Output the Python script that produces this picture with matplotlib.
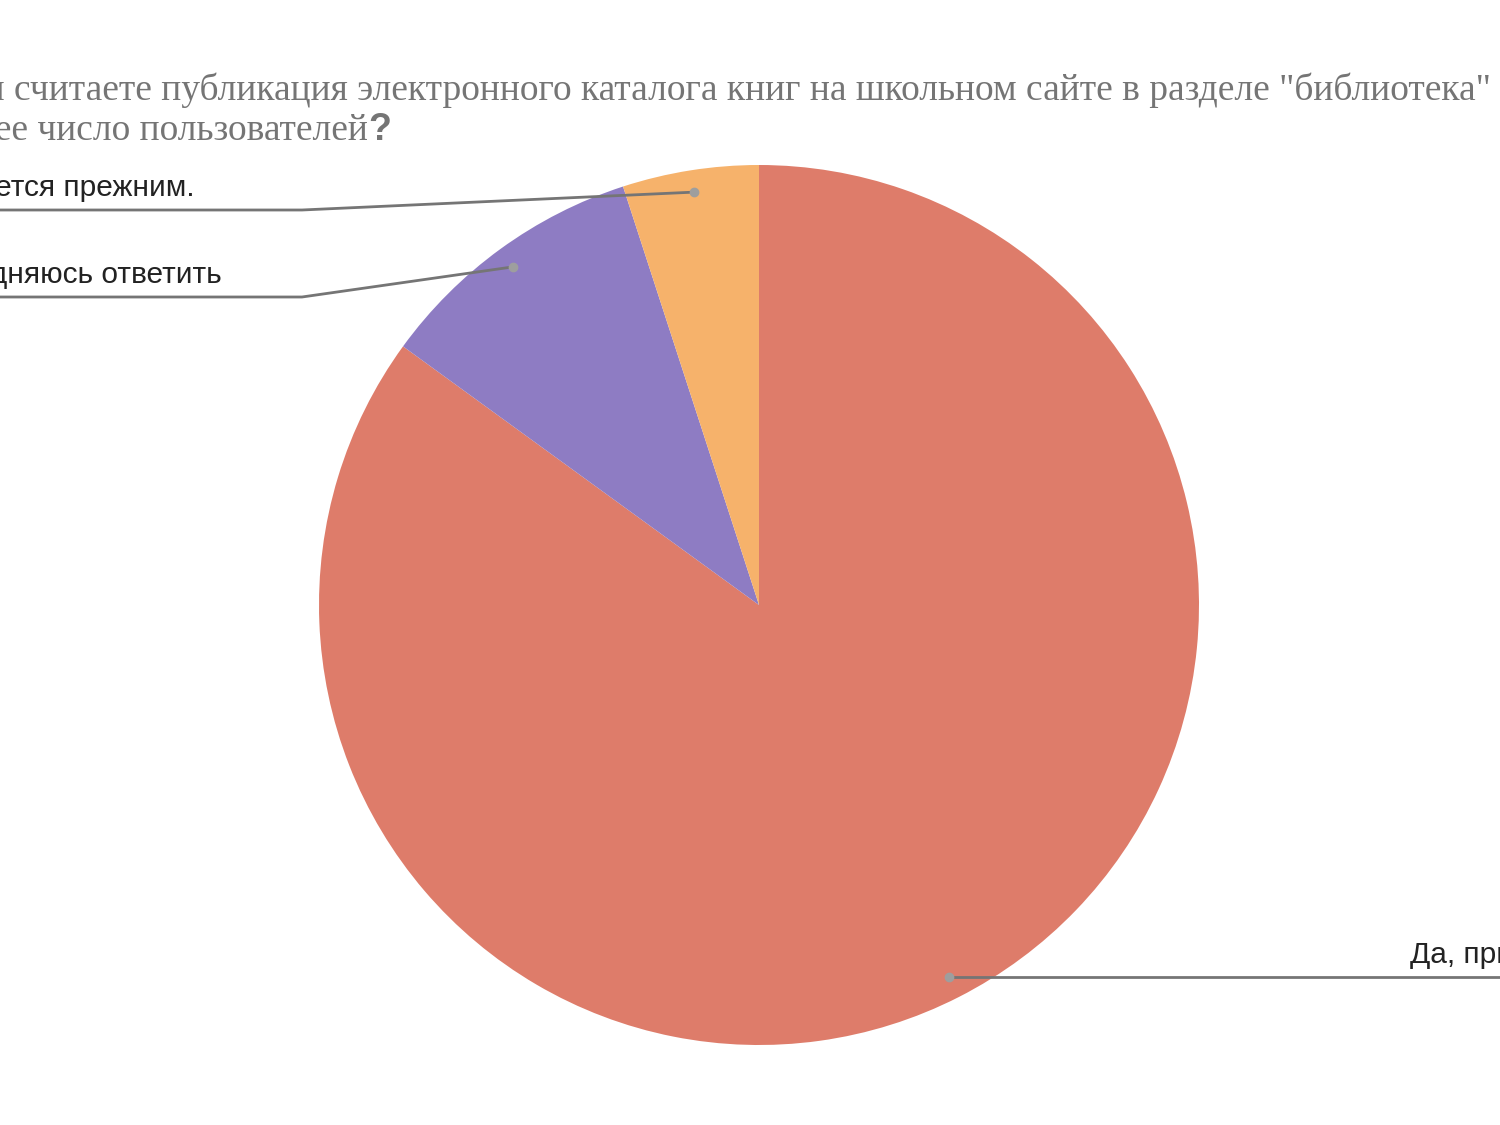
import numpy as np
import matplotlib.pyplot as plt

W, H = 1500, 1125

categories = ["Да, привлечет", "Затрудняюсь ответить", "Число пользователей останется прежним."]
values = [85, 10, 5]
colors = ["#de7c6a", "#8e7cc3", "#f6b26b"]

title_line1 = "Как вы считаете публикация электронного каталога книг на школьном сайте в разделе \"библиотека\" привлечет"
title_line2 = "большее число пользователей"

fig = plt.figure(figsize=(15, 11.25), dpi=100)
ax = fig.add_axes([0, 0, 1, 1])

cx, cy, r = 759, H - 605, 440
wedges, _ = ax.pie(values, colors=colors, startangle=90, counterclock=False,
                   radius=r, center=(cx, cy), frame=True,
                   wedgeprops=dict(linewidth=0))
ax.set_xlim(0, W)
ax.set_ylim(0, H)
ax.axis("off")

# leader lines: dot inside the wedge, elbow, then horizontal run to the label
line_col = "#757575"
dot_col = "#9e9e9e"
label_specs = [
    # (elbow x, elbow y from top, end x, text x, ha)
    (None, None, 1560, 1410, "left"),
    (302, 297, -20, 222, "right"),
    (302, 210, -20, 195, "right"),
]
for w, name, spec in zip(wedges, categories, label_specs):
    mid = np.deg2rad((w.theta1 + w.theta2) / 2)
    dx = cx + 0.95 * r * np.cos(mid)
    dy = cy + 0.95 * r * np.sin(mid)
    ex, ey, endx, tx, ha = spec
    if ex is None:
        xs, ys = [dx, endx], [dy, dy]
        ly = dy
    else:
        ly = H - ey
        xs, ys = [dx, ex, endx], [dy, ly, ly]
    ax.plot(xs, ys, color=line_col, lw=2, solid_capstyle="butt", zorder=3)
    ax.plot(dx, dy, "o", color=dot_col, ms=6, zorder=4)
    ax.text(tx, ly + 14, name, ha=ha, va="baseline", fontsize=21.5,
            family="Liberation Sans", color="#222222")

# title (runs past the canvas edges, like the original)
t2 = ax.text(368, H - 140, title_line2, ha="right", va="baseline", fontsize=27,
             family="Liberation Serif", color="#757575")
ax.text(368, H - 140, "?", ha="left", va="baseline", fontsize=27,
        family="Liberation Sans", fontweight="bold", color="#757575")
renderer = fig.canvas.get_renderer()
x0 = t2.get_window_extent(renderer).x0
ax.text(x0, H - 100, title_line1, ha="left", va="baseline", fontsize=27,
        family="Liberation Serif", color="#757575")

fig.savefig("out.png", dpi=100)
